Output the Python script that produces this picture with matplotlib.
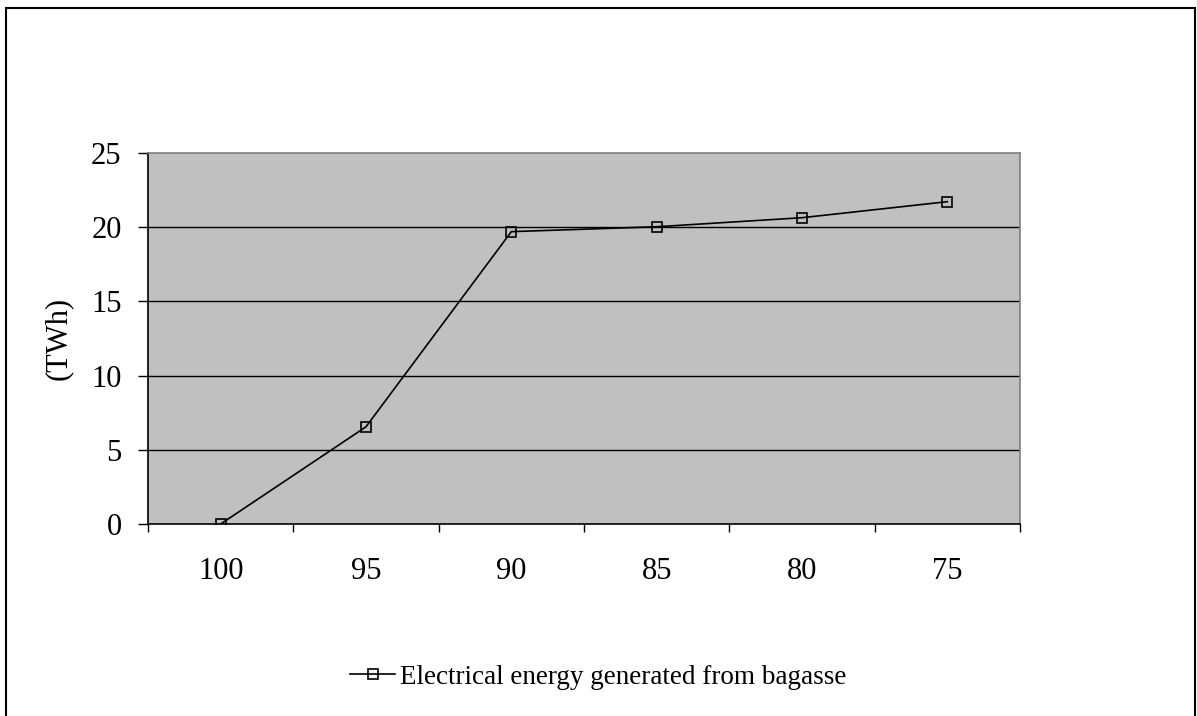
import numpy as np
import matplotlib.pyplot as plt
from matplotlib.patches import Rectangle

# residual share (%) on the x axis, energy in TWh
categories = ['100', '95', '90', '85', '80', '75']
energy = [0.0, 6.55, 19.7, 20.03, 20.64, 21.72]
yticks = [0, 5, 10, 15, 20, 25]

plt.rcParams['font.family'] = ['Liberation Serif', 'DejaVu Serif']

fig = plt.figure(figsize=(11.97, 7.16), dpi=100)
ax = fig.add_axes([148 / 1197, 1 - 524 / 716, 872 / 1197, 371 / 716])
ax.set_facecolor('#c0c0c0')

x = np.arange(len(categories))
ax.plot(x, energy, color='black', lw=1.2, marker='s', markersize=6.5,
        markerfacecolor='none', markeredgecolor='black', markeredgewidth=1.2,
        label='Electrical energy generated from bagasse', zorder=3)

ax.set_xlim(-0.5, len(categories) - 0.5)
ax.set_ylim(0, 25)
ax.set_yticks(yticks)
ax.set_yticklabels([str(v) for v in yticks], fontsize=22)
ax.set_xticks(x)
ax.set_xticklabels(categories, fontsize=22)
ax.set_xticks(np.arange(-0.5, len(categories), 1.0), minor=True)
ax.tick_params(axis='x', which='major', length=0, pad=24)
ax.tick_params(axis='x', which='minor', length=6, width=1, direction='out', color='black')
ax.tick_params(axis='y', length=7, width=1, direction='out', pad=12)

for v in yticks[1:-1]:
    ax.axhline(v, color='black', lw=1, zorder=1)

ax.spines['left'].set_color('black')
ax.spines['bottom'].set_color('black')
ax.spines['top'].set_color('#808080')
ax.spines['right'].set_color('#808080')
for s in ax.spines.values():
    s.set_linewidth(1.2)

ax.set_ylabel('(TWh)', fontsize=22, labelpad=13)

fig.legend(loc='center', bbox_to_anchor=(0.5, 1 - 677 / 716), frameon=False,
           fontsize=19.5, handlelength=1.65, handletextpad=0.2)

fig.patches.append(Rectangle((6 / 1197, -0.05), 1189 / 1197, 1.05 - 8 / 716,
                             transform=fig.transFigure, fill=False,
                             edgecolor='black', lw=1.5))

fig.savefig('out.png', dpi=100)
